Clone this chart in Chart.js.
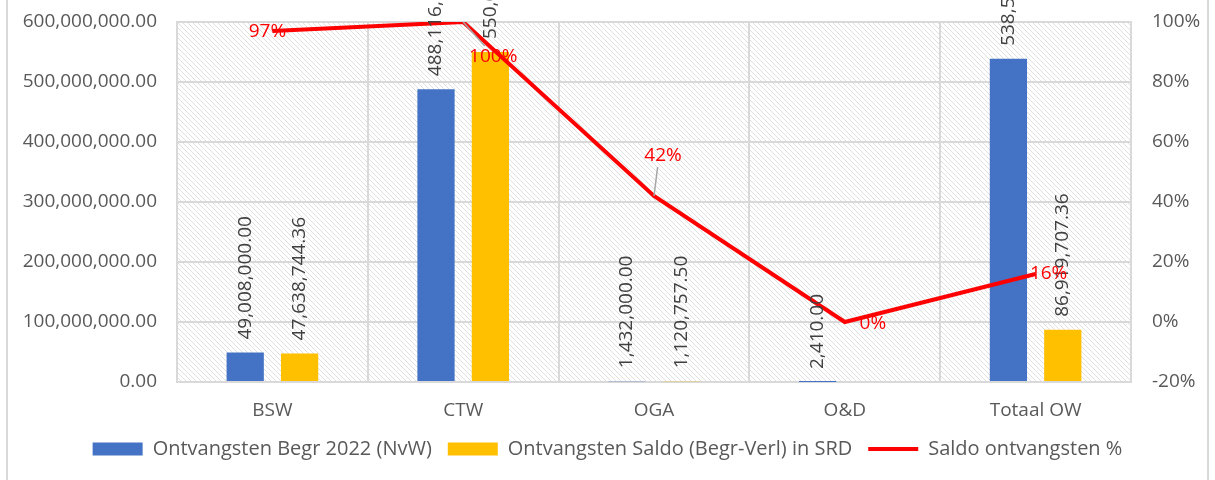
<!DOCTYPE html>
<html>
<head>
<meta charset="utf-8">
<script src="https://cdn.jsdelivr.net/npm/chart.js@4.4.1/dist/chart.umd.min.js"></script>
<style>
    html, body { margin: 0; padding: 0; background: #fff; }
    #wrap { width: 1215px; height: 480px; position: relative; }
</style>
</head>
<body>
<div id="wrap"><canvas id="chart" width="1215" height="480"></canvas></div>
<script>
// data
const categories = ['BSW', 'CTW', 'OGA', 'O&D', 'Totaal OW'];
const begroting = [49008000.00, 488116000.00, 1432000.00, 2410.00, 538558410.00];
const saldo = [47638744.36, 550000000.00, 1120757.50, null, 86919707.36];
const saldoPct = [97, 100, 42, 0, 16];
const leftTicks = [0, 100000000, 200000000, 300000000, 400000000, 500000000, 600000000];
const rightTicks = [-20, 0, 20, 40, 60, 80, 100];

// where the percent labels sit relative to their point (px), and whether a leader line is drawn
const pctLabelOffsets = [[-5, 1], [30, 35], [9, -40], [28, 2], [13, 0]];
const pctLeaders = [false, true, true, false, false];

const FONT = '"Open Sans", "Liberation Sans", sans-serif';
const GRID = '#d9d9d9';
const TEXT = '#595959';
const CLEAR = 'rgba(0,0,0,0)';

function money(v) {
    return v.toLocaleString('en-US', { minimumFractionDigits: 2, maximumFractionDigits: 2 });
}

// diagonal hatching used in the plot area
function makeHatch() {
    const c = document.createElement('canvas');
    c.width = 5; c.height = 5;
    const g = c.getContext('2d');
    g.strokeStyle = '#e0e0e0';
    g.lineWidth = 1;
    g.beginPath();
    g.moveTo(-1, -1); g.lineTo(6, 6);
    g.moveTo(-1, 4); g.lineTo(1, 6);
    g.moveTo(4, -1); g.lineTo(6, 1);
    g.stroke();
    return g.createPattern(c, 'repeat');
}

const backdrop = {
    id: 'backdrop',
    beforeDraw(chart) {
        const { ctx, chartArea: a } = chart;
        ctx.save();
        ctx.fillStyle = makeHatch();
        ctx.fillRect(a.left, a.top, a.right - a.left, a.bottom - a.top);
        ctx.restore();
    },
    beforeDatasetsDraw(chart) {
        const { ctx, chartArea: a } = chart;
        ctx.save();
        ctx.strokeStyle = GRID;
        ctx.lineWidth = 2;
        ctx.strokeRect(a.left, a.top, a.right - a.left, a.bottom - a.top);
        ctx.restore();
    },
    afterDraw(chart) {
        // outer frame of the chart object
        const ctx = chart.ctx;
        ctx.save();
        ctx.strokeStyle = GRID;
        ctx.lineWidth = 2;
        ctx.strokeRect(7, -5, 1201, 490);
        ctx.restore();
    }
};

const valueLabels = {
    id: 'valueLabels',
    afterDatasetsDraw(chart) {
        const ctx = chart.ctx;
        ctx.save();
        // rotated labels over the bars
        [0, 1].forEach(di => {
            const meta = chart.getDatasetMeta(di);
            const data = chart.data.datasets[di].data;
            meta.data.forEach((bar, i) => {
                if (data[i] == null) return;
                ctx.save();
                ctx.translate(bar.x, bar.y - 13);
                ctx.rotate(-Math.PI / 2);
                ctx.font = '19px ' + FONT;
                ctx.fillStyle = '#404040';
                ctx.textAlign = 'left';
                ctx.textBaseline = 'middle';
                ctx.fillText(money(data[i]), 0, 0);
                ctx.restore();
            });
        });
        // percent labels on the line
        const lm = chart.getDatasetMeta(2);
        lm.data.forEach((pt, i) => {
            const [dx, dy] = pctLabelOffsets[i];
            const lx = pt.x + dx, ly = pt.y + dy;
            if (pctLeaders[i]) {
                ctx.strokeStyle = '#a6a6a6';
                ctx.lineWidth = 1.5;
                ctx.beginPath();
                ctx.moveTo(pt.x, pt.y);
                ctx.lineTo(lx - dx * 0.15 - 4, ly - Math.sign(dy) * 11);
                ctx.stroke();
            }
            ctx.font = '19px ' + FONT;
            ctx.fillStyle = '#ff0000';
            ctx.textAlign = 'center';
            ctx.textBaseline = 'middle';
            ctx.fillText(saldoPct[i] + '%', lx, ly);
        });
        ctx.restore();
    }
};

new Chart(document.getElementById('chart'), {
    type: 'bar',
    data: {
        labels: categories,
        datasets: [
            {
                label: 'Ontvangsten Begr 2022 (NvW)',
                data: begroting,
                backgroundColor: '#4472c4',
                borderWidth: 0,
                pointStyle: 'rect',
                categoryPercentage: 0.57,
                barPercentage: 0.685,
                yAxisID: 'y',
                order: 2
            },
            {
                label: 'Ontvangsten Saldo (Begr-Verl) in SRD',
                data: saldo,
                backgroundColor: '#ffc000',
                borderWidth: 0,
                pointStyle: 'rect',
                categoryPercentage: 0.57,
                barPercentage: 0.685,
                yAxisID: 'y',
                order: 2
            },
            {
                type: 'line',
                label: 'Saldo ontvangsten %',
                data: saldoPct,
                borderColor: '#ff0000',
                backgroundColor: '#ff0000',
                borderWidth: 4,
                pointRadius: 0,
                pointStyle: 'line',
                tension: 0,
                yAxisID: 'y1',
                order: 1
            }
        ]
    },
    options: {
        responsive: false,
        animation: false,
        layout: { padding: { top: 22, bottom: 11, left: 0, right: 0 } },
        plugins: {
            tooltip: { enabled: false },
            legend: {
                position: 'bottom',
                labels: {
                    usePointStyle: true,
                    pointStyleWidth: 50,
                    boxHeight: 13,
                    padding: 16,
                    color: TEXT,
                    font: { family: FONT, size: 20 },
                    sort: (a, b) => a.datasetIndex - b.datasetIndex
                }
            }
        },
        scales: {
            x: {
                grid: { color: GRID, lineWidth: 2, drawTicks: false },
                border: { display: false },
                ticks: { color: TEXT, padding: 17, font: { family: FONT, size: 19 } },
                afterFit(s) { s.height = 41; }
            },
            y: {
                position: 'left',
                min: 0,
                max: 600000000,
                afterBuildTicks(s) { s.ticks = leftTicks.map(v => ({ value: v })); },
                grid: { color: GRID, lineWidth: 2, drawTicks: true, tickLength: 20, tickColor: CLEAR },
                border: { display: false },
                ticks: {
                    color: TEXT,
                    padding: 0,
                    font: { family: FONT, size: 19 },
                    callback: v => money(v)
                },
                afterFit(s) { s.width = 177; }
            },
            y1: {
                position: 'right',
                min: -20,
                max: 100,
                afterBuildTicks(s) { s.ticks = rightTicks.map(v => ({ value: v })); },
                grid: { color: CLEAR, drawOnChartArea: false, drawTicks: true, tickLength: 21, tickColor: CLEAR },
                border: { display: false },
                ticks: {
                    color: TEXT,
                    padding: 0,
                    font: { family: FONT, size: 19 },
                    callback: v => v + '%'
                },
                afterFit(s) { s.width = 84; }
            }
        }
    },
    plugins: [backdrop, valueLabels]
});
</script>
</body>
</html>
